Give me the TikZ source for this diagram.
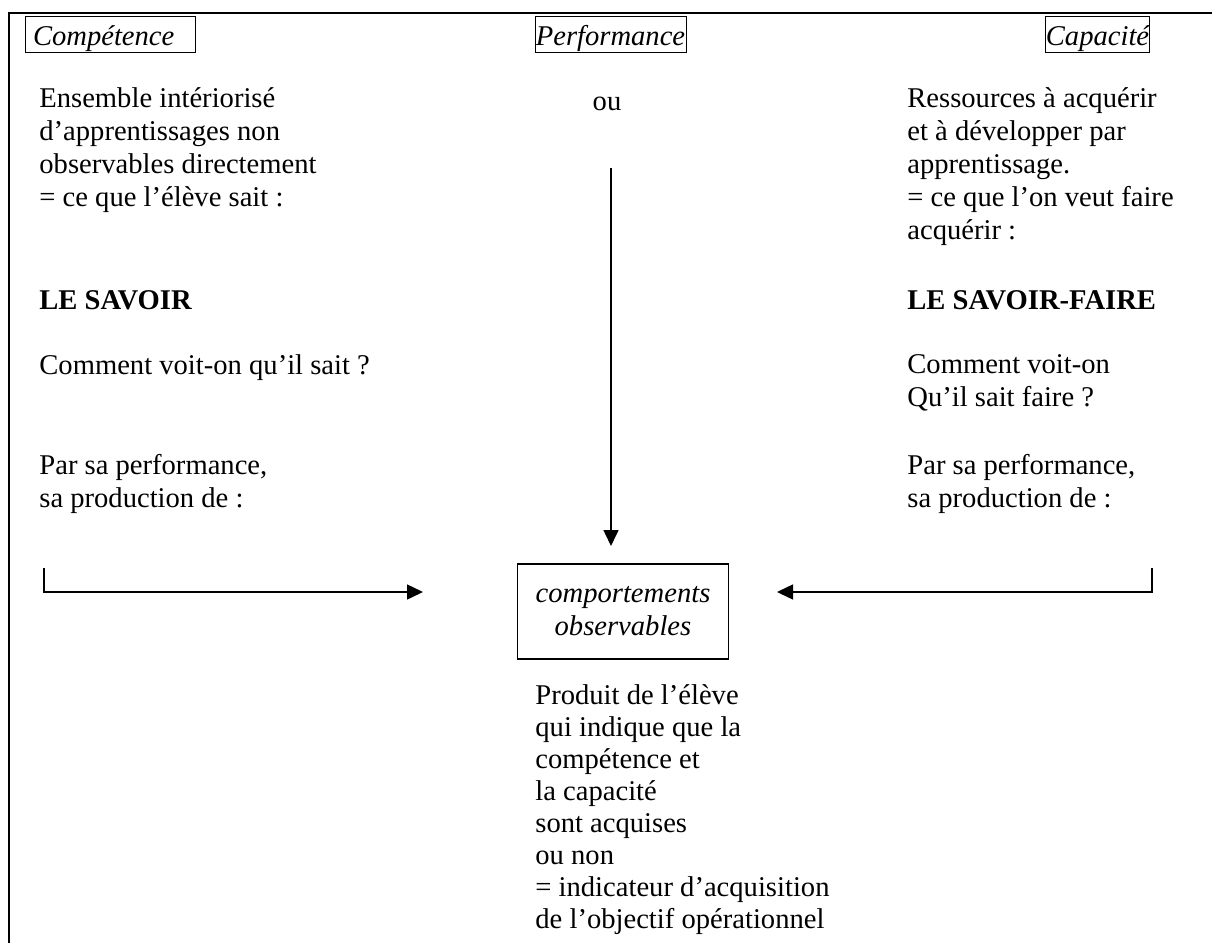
\documentclass[tikz,border=0pt]{standalone}
\usepackage{fontspec}
\setmainfont{Liberation Serif}
\usepackage{tikz}
\usetikzlibrary{calc,arrows.meta,positioning}

\begin{document}
\begin{tikzpicture}[x=0.5pt,y=-0.5pt]

\tikzset{headbox/.style={draw,line width=0.5pt,inner xsep=0pt,inner ysep=0pt,text height=14.5pt,text depth=3.5pt,font=\fontsize{14.3}{16.5}\selectfont\itshape},
textblock/.style={align=left,inner sep=0pt,anchor=north west,font=\fontsize{14.3}{16.5}\selectfont},
boldline/.style={inner sep=0pt,anchor=base west,font=\fontsize{14.3}{16.5}\selectfont\bfseries},
obsbox/.style={draw,line width=0.6pt,align=center,inner sep=0pt,minimum width=105.5pt,minimum height=47.5pt,font=\fontsize{14.3}{16.5}\selectfont\itshape},
flowarrow/.style={line width=0.75pt,-{Triangle[length=8pt,width=7.5pt]}}}

\useasboundingbox (0,0) rectangle (1212,943);

% Frame
\draw[line width=0.75pt] (1212,13) -- (9,13) -- (9,943);

% Headings
\node[headbox,text width=77pt,align=left,inner xsep=4pt] (comp) at (110,34) {Compétence};
\node[headbox,minimum width=75.5pt] (perf) at (610.5,34) {Performance};
\node[headbox,minimum width=51.5pt] (capa) at (1097.5,34) {Capacité};

% Left column
\node[textblock] (compdef) at (39,87.5) {Ensemble intériorisé\\ d’apprentissages non\\ observables directement\\ = ce que l’élève sait :};
\node[boldline] (savoir) at (39,309) {LE SAVOIR};
\node[textblock] (compq) at (39,354.5) {Comment voit-on qu’il sait ?};
\node[textblock] (compperf) at (39,453.5) {Par sa performance,\\ sa production de :};

% Middle
\node[inner sep=0pt,anchor=base,font=\fontsize{14.3}{16.5}\selectfont] (ou) at (607,110) {ou};
\node[obsbox] (obs) at (623,611.5) {comportements\\ observables};
\node[textblock,font=\fontsize{14.3}{16}\selectfont] (prod) at (535,684) {Produit de l’élève\\ qui indique que la\\ compétence et\\ la capacité\\ sont acquises\\ ou non\\ = indicateur d’acquisition\\ de l’objectif opérationnel};

% Right column
\node[textblock] (capadef) at (907,87.5) {Ressources à acquérir\\ et à développer par\\ apprentissage.\\ = ce que l’on veut faire\\ acquérir :};
\node[boldline] (savoirfaire) at (907,309) {LE SAVOIR-FAIRE};
\node[textblock] (capaq) at (907,354.5) {Comment voit-on\\ Qu’il sait faire ?};
\node[textblock] (capaperf) at (907,453.5) {Par sa performance,\\ sa production de :};

% Arrows
\coordinate (vtop) at (611,168); \coordinate (vtip) at (611,546);
\coordinate (lstem) at (44,568); \coordinate (ltip) at (423,592);
\coordinate (rstem) at (1152,568); \coordinate (rtip) at (777,592);
\draw[flowarrow] (vtop) -- (vtip);
\draw[flowarrow] (lstem) |- (ltip);
\draw[flowarrow] (rstem) |- (rtip);

\end{tikzpicture}
\end{document}
